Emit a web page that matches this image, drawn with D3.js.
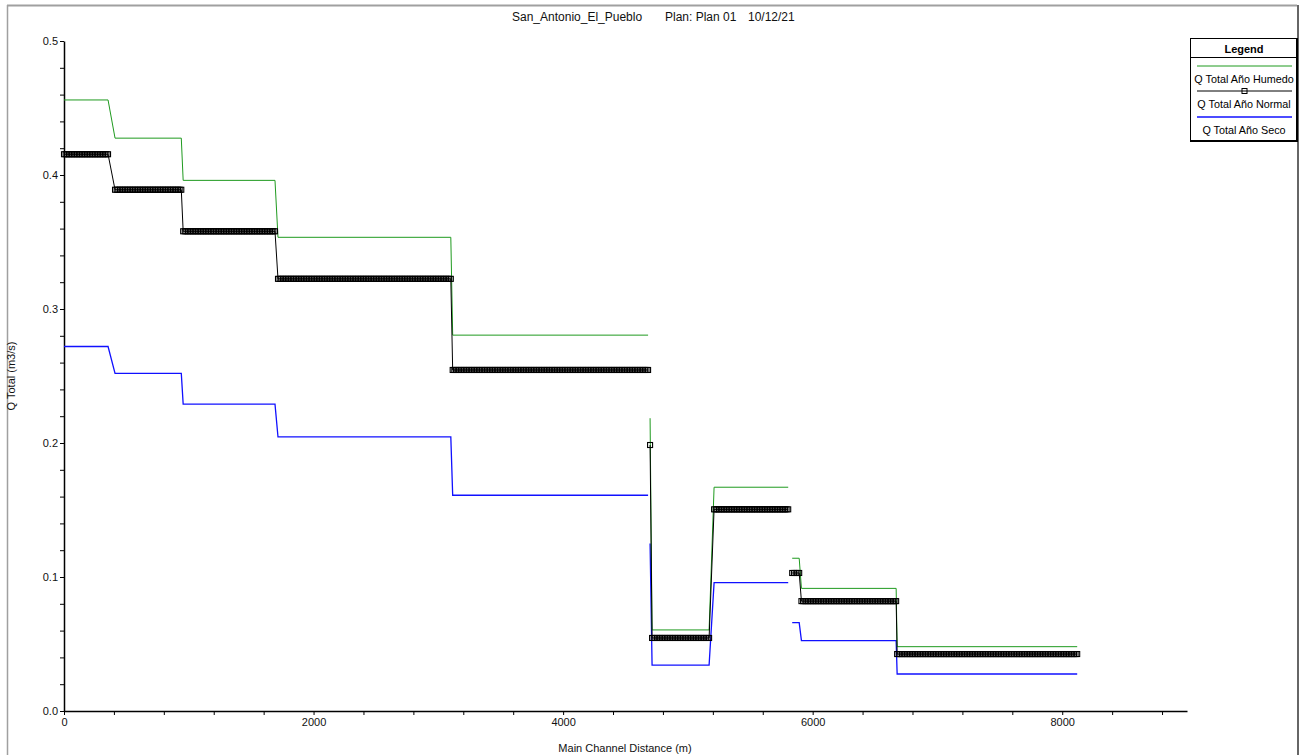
<!DOCTYPE html>
<html>
<head>
<meta charset="utf-8">
<script src="https://cdn.jsdelivr.net/npm/d3@7"></script>
<style>
  html, body { margin: 0; padding: 0; background: #fff; }
  svg { display: block; font-family: "Liberation Sans", Arial, sans-serif; }
</style>
</head>
<body>
<svg id="chart" width="1302" height="755"></svg>
<script>
// ---- Data ----
const titleParts = ["San_Antonio_El_Pueblo", "Plan: Plan 01", "10/12/21"];
const xLabel = "Main Channel Distance (m)";
const yLabel = "Q Total (m3/s)";
const seriesNames = ["Q Total Año Humedo", "Q Total Año Normal", "Q Total Año Seco"];

// Step segments (main channel distance, m) and the reach each belongs to
const segStart = [0, 409, 955, 1715, 3115, 4697, 4713, 5210, 5836, 5910, 6677];
const segEnd   = [353, 940, 1691, 3100, 4681, 4697, 5170, 5804, 5892, 6669, 8120];
const segReach = [1, 1, 1, 1, 1, 2, 2, 2, 3, 3, 3];

// Q Total (m3/s) per segment
const humedoValues = [0.456, 0.4275, 0.396, 0.3535, 0.2805, 0.2185, 0.0605, 0.167, 0.114, 0.0915, 0.048];
const normalValues = [0.4155, 0.389, 0.358, 0.3225, 0.2545, 0.1985, 0.0545, 0.1505, 0.103, 0.082, 0.0425];
const secoValues   = [0.272, 0.252, 0.229, 0.2045, 0.161, 0.125, 0.0343, 0.0958, 0.0659, 0.0525, 0.0276];

const xTicks = d3.range(0, 9001, 400);
const xLabeled = [0, 2000, 4000, 6000, 8000];
const yTicks = d3.range(0, 0.5001, 0.02).map(v => +v.toFixed(2));
const yLabeled = [0, 0.1, 0.2, 0.3, 0.4, 0.5];

// ---- Layout ----
const svg = d3.select("#chart");
const plotL = 64, plotR = 1187, plotT = 41, plotB = 711;
const x = d3.scaleLinear().domain([0, 9000]).range([plotL, plotR]);
const y = d3.scaleLinear().domain([0, 0.5]).range([plotB, plotT]);

// Outer frame
svg.append("line").attr("x1", 7).attr("x2", 1297).attr("y1", 5.5).attr("y2", 5.5)
  .attr("stroke", "#a0a0a0").attr("stroke-width", 2);
svg.append("line").attr("x1", 7.5).attr("x2", 7.5).attr("y1", 5).attr("y2", 755)
  .attr("stroke", "#a0a0a0").attr("stroke-width", 1.5);
svg.append("line").attr("x1", 1298).attr("x2", 1298).attr("y1", 5).attr("y2", 755)
  .attr("stroke", "#333").attr("stroke-width", 1.5);

// Title
const title = svg.append("text").attr("y", 21).attr("font-size", 12).attr("fill", "#111");
title.append("tspan").attr("x", 512).text(titleParts[0]);
title.append("tspan").attr("x", 665).text(titleParts[1]);
title.append("tspan").attr("x", 748).text(titleParts[2]);

// Axes
const fmtY = d3.format(".1f");
const yAxis = d3.axisLeft(y).tickValues(yTicks).tickSize(4).tickSizeOuter(0)
  .tickFormat(d => yLabeled.some(v => Math.abs(v - d) < 1e-9) ? fmtY(d) : "");
const gy = svg.append("g").attr("transform", `translate(${plotL},0)`).call(yAxis);
gy.select(".domain").attr("stroke", "#000").attr("stroke-width", 1.5);
gy.selectAll(".tick line").attr("stroke", "#000");
gy.selectAll(".tick text").attr("font-size", 11).attr("font-family", "Liberation Sans, Arial").attr("fill", "#111").attr("x", -6);

const xAxis = d3.axisBottom(x).tickValues(xTicks).tickSize(4).tickSizeOuter(0)
  .tickFormat(d => xLabeled.includes(d) ? d3.format("d")(d) : "");
const gx = svg.append("g").attr("transform", `translate(0,${plotB})`).call(xAxis);
gx.select(".domain").attr("stroke", "#000").attr("stroke-width", 1.5);
gx.selectAll(".tick line").attr("stroke", "#000");
gx.selectAll(".tick text").attr("font-size", 11).attr("font-family", "Liberation Sans, Arial").attr("fill", "#111").attr("y", 7);

// Axis titles
svg.append("text").attr("x", 625).attr("y", 752).attr("text-anchor", "middle")
  .attr("font-size", 11).attr("fill", "#111").text(xLabel);
svg.append("text").attr("transform", "translate(15,376) rotate(-90)").attr("text-anchor", "middle")
  .attr("font-size", 11).attr("fill", "#111").text(yLabel);

// Build line paths per reach
function reachPoints(values) {
  const reaches = Array.from(new Set(segReach));
  return reaches.map(r => {
    const pts = [];
    segStart.forEach((s, i) => {
      if (segReach[i] !== r) return;
      pts.push([s, values[i]]);
      if (segEnd[i] !== s) pts.push([segEnd[i], values[i]]);
    });
    return pts;
  });
}
const line = d3.line().x(d => x(d[0])).y(d => y(d[1]));

const series = [
  { name: seriesNames[0], values: humedoValues, color: "#1f9a1f", width: 1 },
  { name: seriesNames[1], values: normalValues, color: "#000000", width: 1 },
  { name: seriesNames[2], values: secoValues,   color: "#1010ff", width: 1.3 }
];

const plot = svg.append("g");
// draw seco, humedo, then normal on top
[series[2], series[0], series[1]].forEach(s => {
  reachPoints(s.values).forEach(pts => {
    plot.append("path").datum(pts).attr("d", line)
      .attr("fill", "none").attr("stroke", s.color).attr("stroke-width", s.width);
  });
});

// Markers for the Normal series at cross-sections along each segment
const stationSpacing = 13; // m between plotted cross-section markers
const markerPts = [];
segStart.forEach((s, i) => {
  const e = segEnd[i];
  const n = Math.max(0, Math.floor((e - s) / stationSpacing));
  for (let k = 0; k <= n; k++) markerPts.push([s + (e - s) * (n ? k / n : 0), normalValues[i]]);
});
plot.append("g").selectAll("rect").data(markerPts).join("rect")
  .attr("x", d => x(d[0]) - 2.5).attr("y", d => y(d[1]) - 2.5)
  .attr("width", 5).attr("height", 5)
  .attr("fill", "none").attr("stroke", "#000").attr("stroke-width", 1.1);

// Legend
const lg = svg.append("g");
lg.append("rect").attr("x", 1190.5).attr("y", 38.5).attr("width", 106).attr("height", 102)
  .attr("fill", "#fff").attr("stroke", "#000").attr("stroke-width", 1);
lg.append("line").attr("x1", 1297).attr("x2", 1297).attr("y1", 38).attr("y2", 141.5).attr("stroke", "#000").attr("stroke-width", 2);
lg.append("line").attr("x1", 1190).attr("x2", 1298).attr("y1", 141).attr("y2", 141).attr("stroke", "#000").attr("stroke-width", 2);
lg.append("line").attr("x1", 1190.5).attr("x2", 1296.5).attr("y1", 57.5).attr("y2", 57.5).attr("stroke", "#000");
lg.append("text").attr("x", 1244).attr("y", 53).attr("text-anchor", "middle")
  .attr("font-size", 11).attr("font-weight", "bold").attr("fill", "#000").text("Legend");
const lgRows = [66, 91, 117];
series.forEach((s, i) => {
  const ly = lgRows[i];
  lg.append("line").attr("x1", 1197).attr("x2", 1292).attr("y1", ly).attr("y2", ly)
    .attr("stroke", s.color).attr("stroke-width", s.width);
  if (i === 1) {
    lg.append("rect").attr("x", 1242).attr("y", ly - 2.5).attr("width", 5).attr("height", 5)
      .attr("fill", "none").attr("stroke", "#000").attr("stroke-width", 1);
  }
  lg.append("text").attr("x", 1244).attr("y", ly + 17).attr("text-anchor", "middle")
    .attr("font-size", 10.8).attr("fill", "#000").text(s.name);
});
</script>
</body>
</html>
